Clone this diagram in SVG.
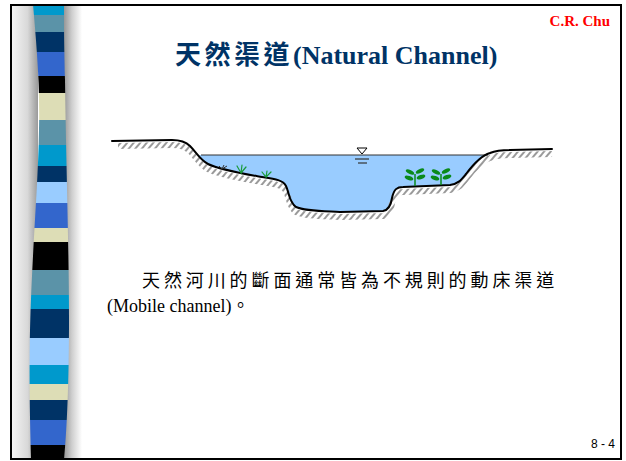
<svg xmlns="http://www.w3.org/2000/svg" width="626" height="461" viewBox="0 0 626 461">
  <defs>
    <style>
      .title { font-family: "Liberation Serif", "Noto Sans CJK TC", serif; font-weight: bold; fill: #003366; }
      .body { font-family: "Liberation Serif", "Noto Sans CJK TC", serif; fill: #000; font-size: 18px; }
      .ground { fill: none; stroke: #000; stroke-width: 2; stroke-linejoin: round; stroke-linecap: round; }
      .grass { fill: none; stroke: #1a9a3a; stroke-width: 1.2; stroke-linecap: round; }
      .leaf { fill: #0a8a1a; }
    </style>
    <linearGradient id="shadeL" x1="0" y1="0" x2="1" y2="0">
      <stop offset="0" stop-color="#f4f4f4"/>
      <stop offset="0.6" stop-color="#d8d8d8"/>
      <stop offset="1" stop-color="#9a9a9a"/>
    </linearGradient>
    <linearGradient id="shadeR" x1="0" y1="0" x2="1" y2="0">
      <stop offset="0" stop-color="#8a8a8a"/>
      <stop offset="0.5" stop-color="#cfcfcf"/>
      <stop offset="1" stop-color="#ffffff"/>
    </linearGradient>
    <clipPath id="band">
      <path d="M33,4 C36,40 40,80 39,130 C38,190 32,250 30,330 C29,380 30,420 31,460 L64,460 C67,430 69,380 69,320 C69,250 66,160 65,80 C64,40 64,20 64,4 Z"/>
    </clipPath>
    <pattern id="hatch" width="5" height="10" patternUnits="userSpaceOnUse" patternTransform="rotate(40)">
      <rect x="0" y="0" width="2" height="10" fill="#9a9a9a"/>
    </pattern>
  </defs>

  <rect width="626" height="461" fill="#fff"/>

  <!-- decorative striped side band -->
  <g id="side-band">
    <rect x="12" y="5" width="26" height="454" fill="url(#shadeL)"/>
    <rect x="62" y="5" width="20" height="454" fill="url(#shadeR)"/>
    <g clip-path="url(#band)">
      <rect x="25" y="0" width="50" height="15" fill="#0099cc"/>
      <rect x="25" y="15" width="50" height="17" fill="#5b93a8"/>
      <rect x="25" y="32" width="50" height="20" fill="#003366"/>
      <rect x="25" y="52" width="50" height="24" fill="#3366cc"/>
      <rect x="25" y="76" width="50" height="17" fill="#000000"/>
      <rect x="25" y="93" width="50" height="27" fill="#ddddb6"/>
      <rect x="25" y="120" width="50" height="25" fill="#5b93a8"/>
      <rect x="25" y="145" width="50" height="21" fill="#0099cc"/>
      <rect x="25" y="166" width="50" height="16" fill="#003366"/>
      <rect x="25" y="182" width="50" height="21" fill="#99ccff"/>
      <rect x="25" y="203" width="50" height="25" fill="#3366cc"/>
      <rect x="25" y="228" width="50" height="14" fill="#ddddb6"/>
      <rect x="25" y="242" width="50" height="28" fill="#000000"/>
      <rect x="25" y="270" width="50" height="25" fill="#5b93a8"/>
      <rect x="25" y="295" width="50" height="14" fill="#0099cc"/>
      <rect x="25" y="309" width="50" height="29" fill="#003366"/>
      <rect x="25" y="338" width="50" height="27" fill="#99ccff"/>
      <rect x="25" y="365" width="50" height="19" fill="#0099cc"/>
      <rect x="25" y="384" width="50" height="16" fill="#ddddb6"/>
      <rect x="25" y="400" width="50" height="20" fill="#003366"/>
      <rect x="25" y="420" width="50" height="25" fill="#3366cc"/>
      <rect x="25" y="445" width="50" height="16" fill="#000000"/>
    </g>
  </g>

  <!-- header texts -->
  <g id="author">
    <text x="610" y="26" text-anchor="end" font-family="Liberation Serif, serif" font-weight="bold" font-size="15" fill="#ff0000">C.R. Chu</text>
  </g>
  <g id="title">
    <text class="title" y="64" font-size="26"><tspan x="175" letter-spacing="3.5">天然渠道</tspan><tspan x="293">(Natural Channel)</tspan></text>
  </g>

  <!-- channel cross-section -->
  <g id="channel">
    <rect x="190" y="155" width="305" height="60" fill="#99ccff"/>
    <path d="M112,141 L172,140 C180,140 186,142 190,146 C196,152 200,160 208,164 C220,170 245,174 262,177 C275,179 283,180 286,186 C289,192 289,202 296,207 C305,211 320,211 340,212 L383,211 C389,210 391,205 392,198 C394,189 397,187 403,187 L450,185 C458,184 461,180 466,174 C472,166 480,156 490,153 C497,150 502,150 510,150 L552,149 L560,240 L105,240 Z" fill="#fff"/>
    <path d="M118,141 L172,140 C180,140 186,142 190,146 C196,152 200,160 208,164 C220,170 245,174 262,177 C275,179 283,180 286,186 C289,192 289,202 296,207 C305,211 320,211 340,212 L383,211 C389,210 391,205 392,198 C394,189 397,187 403,187 L450,185 C458,184 461,180 466,174 C472,166 480,156 490,153 C497,150 502,150 510,150 L552,149" transform="translate(0,5)" fill="none" stroke="url(#hatch)" stroke-width="6"/>
    <line x1="201" y1="155" x2="488" y2="155" stroke="#333" stroke-width="1"/>
    <path class="ground" d="M112,141 L172,140 C180,140 186,142 190,146 C196,152 200,160 208,164 C220,170 245,174 262,177 C275,179 283,180 286,186 C289,192 289,202 296,207 C305,211 320,211 340,212 L383,211 C389,210 391,205 392,198 C394,189 397,187 403,187 L450,185 C458,184 461,180 466,174 C472,166 480,156 490,153 C497,150 502,150 510,150 L552,149"/>
  </g>

  <!-- water level symbol -->
  <g id="water-level">
    <path d="M357,148 L367,148 L362,154 Z" fill="#fff" stroke="#000" stroke-width="1"/>
    <line x1="355" y1="159" x2="369" y2="159" stroke="#333" stroke-width="1.2"/>
    <line x1="358" y1="163" x2="367" y2="163" stroke="#333" stroke-width="1.2"/>
  </g>

  <!-- bank vegetation -->
  <g id="plants">
    <path d="M219,166 L222,169 L224,165 M222,169 L227,166" fill="none" stroke="#333" stroke-width="1"/>
    <path class="grass" d="M237,166 L241,173 L242,165 M241,173 L246,167"/>
    <path class="grass" d="M262,172 L266,177 L267,171 M266,177 L271,172"/>
    <g id="sprout-1">
      <path d="M415,186 L415,174" stroke="#0a8a1a" stroke-width="1.5"/>
      <ellipse class="leaf" cx="410" cy="172" rx="4.5" ry="2" transform="rotate(25 410 172)"/>
      <ellipse class="leaf" cx="420" cy="171" rx="4.5" ry="2" transform="rotate(-25 420 171)"/>
      <ellipse class="leaf" cx="409" cy="178" rx="4.5" ry="2" transform="rotate(20 409 178)"/>
      <ellipse class="leaf" cx="421" cy="177" rx="4.5" ry="2" transform="rotate(-20 421 177)"/>
    </g>
    <g id="sprout-2">
      <path d="M441,185 L441,174" stroke="#0a8a1a" stroke-width="1.5"/>
      <ellipse class="leaf" cx="436" cy="172" rx="4.5" ry="2" transform="rotate(25 436 172)"/>
      <ellipse class="leaf" cx="446" cy="171" rx="4.5" ry="2" transform="rotate(-25 446 171)"/>
      <ellipse class="leaf" cx="435" cy="178" rx="4.5" ry="2" transform="rotate(20 435 178)"/>
      <ellipse class="leaf" cx="447" cy="177" rx="4.5" ry="2" transform="rotate(-20 447 177)"/>
    </g>
  </g>

  <!-- description -->
  <g id="description">
    <text class="body" x="142" y="287" letter-spacing="3.9">天然河川的斷面通常皆為不規則的動床渠道</text>
    <text class="body" x="107" y="312" font-size="19.5">(Mobile channel)。</text>
  </g>

  <g id="page-number">
    <text x="615" y="448" text-anchor="end" font-family="Liberation Sans, sans-serif" font-size="12" fill="#000">8 - 4</text>
  </g>

  <!-- slide frame -->
  <rect x="11" y="5" width="610" height="454" fill="none" stroke="#000" stroke-width="2"/>
</svg>
